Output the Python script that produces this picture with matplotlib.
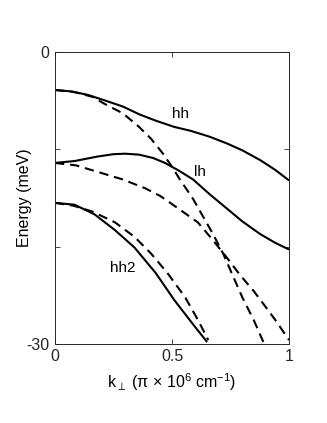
import matplotlib
matplotlib.use("Agg")
import matplotlib.pyplot as plt

plt.rcParams['font.family'] = ['Liberation Sans', 'DejaVu Sans']
plt.rcParams['mathtext.fontset'] = 'custom'
plt.rcParams['mathtext.rm'] = 'Liberation Sans'
plt.rcParams['mathtext.it'] = 'Liberation Sans'

# solid bands
hh_x = [0, 0.07, 0.14, 0.21, 0.29, 0.36, 0.43, 0.51, 0.58, 0.66, 0.735, 0.8, 0.876, 0.94, 1.0]
hh_y = [-3.9, -4.05, -4.4, -4.95, -5.6, -6.4, -7.05, -7.7, -8.1, -8.7, -9.4, -10.1, -11.1, -12.1, -13.2]

lh_x = [0, 0.085, 0.18, 0.25, 0.30, 0.36, 0.42, 0.47, 0.53, 0.59, 0.66, 0.735, 0.8, 0.876, 0.94, 1.0]
lh_y = [-11.4, -11.2, -10.75, -10.5, -10.45, -10.55, -10.9, -11.4, -12.2, -13.1, -14.6, -16.1, -17.4, -18.7, -19.6, -20.3]

hh2_x = [0, 0.085, 0.17, 0.256, 0.34, 0.43, 0.51, 0.60, 0.65]
hh2_y = [-15.5, -15.7, -16.7, -18.3, -20.1, -22.7, -25.5, -28.3, -29.8]

# dashed bands
hhd_x = [0, 0.08, 0.16, 0.21, 0.29, 0.355, 0.41, 0.46, 0.50, 0.534, 0.59, 0.63, 0.675, 0.72, 0.76, 0.80, 0.85, 0.89]
hhd_y = [-3.9, -4.1, -4.6, -5.3, -6.3, -7.6, -8.9, -10.4, -11.8, -13.1, -15.1, -16.8, -18.7, -20.8, -23.0, -25.2, -27.6, -29.8]

lhd_x = [0, 0.09, 0.18, 0.29, 0.385, 0.45, 0.51, 0.61, 0.67, 0.73, 0.79, 0.85, 0.90, 0.94, 1.0]
lhd_y = [-11.4, -11.65, -12.3, -13.1, -14.0, -14.8, -15.8, -17.5, -19.2, -21.0, -22.9, -24.6, -26.2, -27.5, -29.6]

hh2d_x = [0, 0.08, 0.16, 0.256, 0.34, 0.41, 0.48, 0.556, 0.61, 0.655]
hh2d_y = [-15.5, -15.8, -16.4, -17.5, -19.0, -20.7, -22.7, -25.2, -27.5, -29.6]

labels = ["hh", "lh", "hh2"]
label_pos = [(0.535, -6.4), (0.62, -12.3), (0.29, -22.2)]

xticks = [0, 0.5, 1]
xticklabels = ["0", "0.5", "1"]
yticks = [0, -10, -20, -30]
yticklabels = ["0", "", "", "-30"]

fig = plt.figure(figsize=(3.27, 4.23), dpi=100)
ax = fig.add_axes([0.168, 0.187, 0.716, 0.690])

lw = 1.5
for xs, ys in [(hh_x, hh_y), (lh_x, lh_y), (hh2_x, hh2_y)]:
    ax.plot(xs, ys, color='black', lw=lw, solid_capstyle='butt', solid_joinstyle='round')
for xs, ys in [(hhd_x, hhd_y), (lhd_x, lhd_y), (hh2d_x, hh2d_y)]:
    ax.plot(xs, ys, color='black', lw=lw, linestyle=(0, (4.5, 2.8)))

for t, (x, y) in zip(labels, label_pos):
    ax.text(x, y, t, fontsize=11, ha='center', va='center')

ax.set_xlim(0, 1)
ax.set_ylim(-30, 0)
ax.set_xticks(xticks)
ax.set_xticklabels(xticklabels)
ax.set_yticks(yticks)
ax.set_yticklabels(yticklabels)
ax.tick_params(direction='in', length=3.5, width=0.6, labelsize=11.5, top=True, right=True,
               colors='#262626', pad=4)
for s in ax.spines.values():
    s.set_color('#262626')
    s.set_linewidth(0.7)

ax.set_xlabel(r"k$_\perp$ ($\pi$ $\times$ 10$^6$ cm$^{-1}$)", fontsize=11.5, labelpad=5)
ax.set_ylabel("Energy (meV)", fontsize=11.5, labelpad=-4)

fig.savefig("out.png", dpi=100)
